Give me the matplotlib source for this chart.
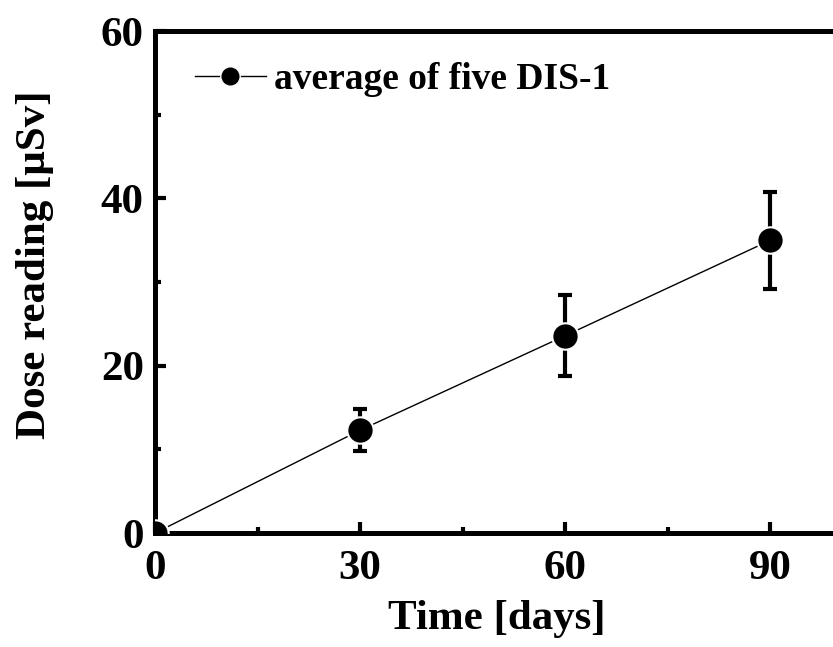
import numpy as np
import matplotlib.pyplot as plt
from matplotlib.ticker import MultipleLocator

plt.rcParams['font.family'] = ['Liberation Serif', 'DejaVu Serif']
plt.rcParams['font.weight'] = 'bold'

# average of five DIS-1 readings
days = [0, 30, 60, 90]
dose = [0.0, 12.3, 23.6, 35.0]
dose_err = [0.0, 2.5, 4.85, 5.8]

fig = plt.figure(figsize=(8.33, 6.47), dpi=100)
ax = fig.add_axes([0.186, 0.176, 0.821, 0.776])

ax.plot(days, dose, color='black', lw=1.0, zorder=1)
ax.errorbar(days, dose, yerr=dose_err, fmt='none', ecolor='black',
            elinewidth=3, capsize=5, capthick=3, zorder=2)
ax.plot(days, dose, 'o', color='black', ms=19, mec='white', mew=1.5, zorder=3)

# legend handle drawn as proxy
ax.plot([], [], '-o', color='black', lw=1.0, ms=14, mec='white', mew=1,
        label='average of five DIS-1')
leg = ax.legend(loc='upper left', frameon=False, fontsize=27,
                handlelength=1.9, borderaxespad=0.3, handletextpad=0.2,
                bbox_to_anchor=(0.02, 0.99))

ax.set_xlim(0, 100)
ax.set_ylim(0, 60)
ax.xaxis.set_major_locator(MultipleLocator(30))
ax.xaxis.set_minor_locator(MultipleLocator(15))
ax.yaxis.set_major_locator(MultipleLocator(20))
ax.yaxis.set_minor_locator(MultipleLocator(10))

for s in ax.spines.values():
    s.set_linewidth(3.6)
ax.spines['right'].set_visible(False)

ax.tick_params(which='major', direction='in', length=8, width=3,
               labelsize=31, pad=12)
ax.tick_params(which='minor', direction='in', length=4, width=3)
ax.tick_params(axis='y', pad=8)

ax.set_xlabel('Time [days]', fontsize=31, fontweight='bold', labelpad=9)
ax.set_ylabel('Dose reading [μSv]', fontsize=31, fontweight='bold')
ax.yaxis.set_label_coords(-0.148, 0.535)

fig.savefig('out.png', dpi=100)
